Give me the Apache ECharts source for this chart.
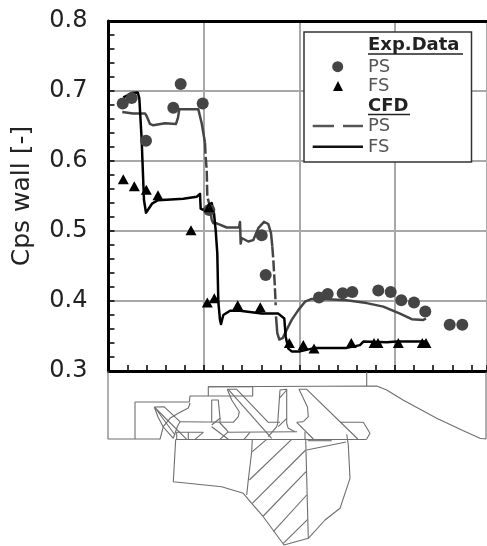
<!DOCTYPE html>
<html><head><meta charset="utf-8">
<script src="https://cdn.jsdelivr.net/npm/echarts@6/dist/echarts.min.js"></script>
<style>html,body{margin:0;padding:0;background:#fff}#c{width:487px;height:546px}</style>
</head><body><div id="c"></div>
<script>
const yTitle = 'Cps wall [-]';
const expPS = [[14.2,.682],[23.2,.690],[37.5,.629],[64.8,.676],[72.2,.710],[94.2,.682],[100.8,.530],[153.2,.494],[157.2,.437],[210.5,.405],[219.2,.410],[234.2,.411],[243.8,.413],[269.8,.415],[282.2,.413],[292.8,.401],[305.5,.398],[316.8,.385],[341.2,.366],[353.8,.366]];
const expFS = [[14.8,.574],[25.8,.564],[37.8,.559],[49.5,.551],[82.5,.501],[100.5,.534],[98.8,.398],[105.8,.404],[129.2,.394],[151.8,.391],[180.8,.340],[194.8,.337],[205.5,.332],[242.8,.340],[265.5,.340],[269.5,.340],[289.8,.340],[313.8,.340],[317.5,.340]];
const cfdPS1 = [[13.8,.670],[24.5,.668],[36.5,.668],[38.2,.664],[41.5,.653],[44.8,.651],[56.5,.654],[67.5,.653],[69.5,.662],[70.8,.674],[89.8,.674],[93.2,.654],[96.5,.626]];
const cfdPSDrop1 = [[96.5,.626],[97,.609],[98.2,.587],[98.8,.549],[101.5,.535],[103.2,.516]];
const cfdPS2 = [[103.2,.516],[104.8,.511],[108.2,.511],[118.2,.505],[130.5,.505],[131.5,.513],[132.2,.482],[133.2,.490],[139.8,.485],[144.8,.487],[149.8,.504],[155.5,.513],[159.8,.510],[162.5,.497],[163.8,.478]];
const cfdPSDrop2 = [[163.8,.478],[164.8,.459],[166.2,.425],[167.2,.394]];
const cfdPS3 = [[167.5,.378],[168.8,.354],[170.8,.345],[174.2,.347],[178.2,.359],[183.2,.373],[189.8,.387],[196.5,.399],[203.2,.403],[214.5,.403],[238.2,.401],[258.2,.397],[274.8,.392],[291.5,.382],[303.2,.374],[314.8,.373],[317.5,.375]];
const cfdFS = [[14.8,.691],[19.5,.694],[23.2,.697],[29.2,.698],[30.8,.690],[33.2,.630],[33.8,.606],[35.5,.544],[37.5,.526],[39.5,.527],[43.5,.539],[49.5,.544],[74.8,.546],[88.2,.549],[91.5,.553],[92.2,.532],[94.8,.530],[98.2,.535],[103.2,.540],[105.5,.525],[107.2,.501],[108.8,.468],[109.8,.399],[111.5,.373],[112.5,.367],[114.8,.380],[121.5,.386],[131.5,.386],[153.2,.382],[169.8,.382],[175.8,.375],[177.2,.349],[179.8,.332],[183.2,.328],[191.5,.328],[206.5,.333],[238.2,.333],[251.5,.337],[254.8,.342],[278.2,.341],[288.2,.342],[318.2,.342]];

const casingOuter = [[108,371],[108,439],[160,439]];
const casingStep = [[135,439],[135,402],[189.3,402],[190,396],[252.7,396],[252.7,386.7],[208.3,386.7],[208.3,396]];
const shroud = [[208.3,386.7],[376.7,386],[386.7,390],[403,400],[436.7,418.3],[463.3,430.7],[480,438.3],[486,439],[486,372]];
const casingTick = [[366.7,372],[366.7,386]];
const blade1 = [[154.3,407],[158,417],[163.3,427],[173.3,438.3],[175,436.7],[177.3,426.7],[180,421.7],[164,406.7],[154.3,407],[186.7,439.3]];
const blade1b = [[156.7,410],[175,435]];
const sealCurve = [[190,403],[188.3,408],[178.3,413.3],[170,418.3],[163.3,426.7],[160,439.3]];
const bandA = [[180,421.7],[233.3,422.3],[238.3,416.7],[239.3,411.7],[231.7,400],[227.3,389.3],[236.7,389.3],[268.3,422.3],[280,422.3]];
const blade2 = [[228.3,389.3],[271.7,438.3]];
const vane = [[211.7,421.7],[211.7,400],[218.3,400],[220,418.3],[211.7,425]];
const vaneFoot = [[220,418],[220,423],[226.7,430],[228.3,432.3]];
const vaneCross1 = [[211.7,426.7],[228.3,439.3]];
const vaneCross2 = [[228.3,431.7],[220,439.3]];
const innerBand = [[176.7,439.3],[176.7,432.3],[203.3,432.3],[195,439.3]];
const innerTick = [[188.3,432.3],[188.3,439.3]];
const innerBand2 = [[228.3,432.3],[297,431.7]];
const innerHatch = [[250,432.3],[244,439.3]];
const base = [[176,439.5],[366.7,439.5]];
const blade3 = [[268.3,436.7],[276.7,426.7],[277.7,423.3],[280,390],[280,389.3],[286.7,389.3],[286.7,423.3],[288.3,428.3],[295,431.7]];
const blade3h1 = [[286.7,390],[279.3,398.3]];
const blade3h2 = [[286.7,418.3],[278.3,426.7]];
const blade4 = [[303.3,421.7],[308.3,416.7],[307.5,407],[299,389.3],[306.7,389.3],[357.8,439]];
const band4 = [[296.7,422.3],[303.3,421.7]];
const bandRight = [[340,422.3],[363.3,422.3],[370,433.3],[366.7,439]];
const blade4Cross = [[296.7,422.3],[313.3,439]];
const rib = [[305,431.7],[305,440]];
const discLeft = [[175.7,439.3],[173.3,481.7],[221.7,486.7],[243.3,493.3],[251.7,503.3],[263.3,516.7],[284,545],[308.3,538.3],[325,520],[340,508.3],[350,478.3],[348.3,445],[346.7,434.3]];
const neck = [[252.3,439],[251.7,451.7],[248.3,480],[246.7,495]];
const discMid = [[305.7,439.3],[308.3,538.3]];
const strut = [[306.7,450],[346,442]];
const strut2 = [[307.7,440.7],[331.7,440.7]];
const hatch1 = [[252.3,451.7],[266.7,439.3]];
const hatch2 = [[249.3,480],[291.7,439.3]];
const hatch3 = [[252.3,503.3],[305.7,450]];
const hatch4 = [[263.3,516],[306,471.7]];
const hatch5 = [[273.3,531.7],[306.7,495]];
const hatch6 = [[283.3,543.3],[307.7,519.3]];
const schematic = [casingOuter,casingStep,shroud,casingTick,blade1,blade1b,sealCurve,bandA,blade2,vane,vaneFoot,vaneCross1,vaneCross2,innerBand,innerTick,innerBand2,innerHatch,base,blade3,blade3h1,blade3h2,blade4,band4,bandRight,blade4Cross,rib,discLeft,neck,discMid,strut,strut2,hatch1,hatch2,hatch3,hatch4,hatch5,hatch6];

const PSCOL='#454545', FSCOL='#000', FONT='"DejaVu Sans"';
const line=(data,color,type)=>({type:'line',xAxisIndex:0,yAxisIndex:0,data,symbol:'none',silent:true,z:3,
  lineStyle:{color,width:2.5,type:type||'solid',join:'round'}});
const series=[
  ...schematic.map(d=>({type:'line',xAxisIndex:2,yAxisIndex:1,data:d,symbol:'none',silent:true,z:2,clip:false,
     lineStyle:{color:'#6e6e6e',width:1.1}})),
  line(cfdPS1,PSCOL),line(cfdPSDrop1,PSCOL,[11,3]),line(cfdPS2,PSCOL),line(cfdPSDrop2,PSCOL,[11,3]),line(cfdPS3,PSCOL),
  line(cfdFS,FSCOL),
  {type:'scatter',xAxisIndex:0,yAxisIndex:0,data:expPS,symbol:'circle',symbolSize:12,itemStyle:{color:PSCOL,opacity:1},z:4,silent:true},
  {type:'scatter',xAxisIndex:0,yAxisIndex:0,data:expFS,symbol:'triangle',symbolSize:[11,10],itemStyle:{color:FSCOL,opacity:1},z:5,silent:true}
];
const Z=100;
const txt=(x,y,t,bold,col)=>({type:'text',z:Z,x,y,style:{text:t,fontFamily:FONT,fontSize:18,fontWeight:bold?'bold':'normal',fill:col,textVerticalAlign:'middle',textBaseline:'middle'}});
const ln=(x1,y1,x2,y2,col,w,dash)=>({type:'line',z:Z,shape:{x1,y1,x2,y2},style:{stroke:col,lineWidth:w,lineDash:dash}});
const graphic=[
  {type:'rect',z:Z-1,shape:{x:304,y:32,width:167.5,height:130},style:{fill:'#fff',stroke:'#333',lineWidth:1.5}},
  txt(368,45,'Exp.Data',true,'#222'), ln(368,54,463,54,'#222',1.5),
  txt(368,67,'PS',false,'#555'), txt(368,86,'FS',false,'#555'),
  txt(368,106,'CFD',true,'#222'), ln(368,114.5,410,114.5,'#222',1.5),
  txt(368,126,'PS',false,'#555'), txt(368,147,'FS',false,'#555'),
  {type:'circle',z:Z,shape:{cx:337.7,cy:66.7,r:5.5},style:{fill:PSCOL}},
  {type:'polygon',z:Z,shape:{points:[[338,81],[343,91],[333,91]]},style:{fill:FSCOL}},
  ln(312.7,126,334,126,'#555',2.5), ln(343,126,363,126,'#555',2.5),
  ln(312.7,146.7,363,146.7,'#111',2.5)
];
const chart=echarts.init(document.getElementById('c'),null,{renderer:'canvas'});
chart.setOption({
  animation:false,backgroundColor:'#fff',
  grid:[{left:108.5,top:21,width:378.5,height:350,containLabel:false},{left:0,top:0,width:487,height:546}],
  xAxis:[
    {gridIndex:0,type:'value',min:0,max:378.5,interval:95.5,
      axisLine:{show:true,onZero:false,lineStyle:{color:'#000',width:3}},
      axisTick:{show:true,inside:true,length:6,lineStyle:{color:'#000',width:1.5}},
      minorTick:{show:true,splitNumber:5,length:6,lineStyle:{color:'#000',width:1.5}},
      axisLabel:{show:false},
      splitLine:{show:true,lineStyle:{color:'#a8a8a8',width:2}}},
    {gridIndex:0,type:'value',position:'top',min:0,max:378.5,
      axisLine:{show:true,onZero:false,lineStyle:{color:'#000',width:3}},
      axisTick:{show:false},axisLabel:{show:false},splitLine:{show:false}},
    {gridIndex:1,type:'value',min:0,max:487,show:false}
  ],
  yAxis:[
    {gridIndex:0,type:'value',min:0.3,max:0.8,interval:0.1,
      name:yTitle,nameLocation:'middle',nameGap:74,nameRotate:90,
      nameTextStyle:{fontFamily:FONT,fontSize:25,color:'#222'},
      axisLine:{show:true,onZero:false,lineStyle:{color:'#000',width:3}},
      axisTick:{show:true,inside:true,length:6,lineStyle:{color:'#000',width:1.5}},
      minorTick:{show:true,splitNumber:5,length:6,lineStyle:{color:'#000',width:1.5}},
      axisLabel:{fontFamily:FONT,fontSize:24,color:'#222',margin:21,formatter:v=>v.toFixed(1)},
      splitLine:{show:true,lineStyle:{color:'#a8a8a8',width:2}}},
    {gridIndex:1,type:'value',min:0,max:546,inverse:true,show:false}
  ],
  series,graphic
});
</script></body></html>
